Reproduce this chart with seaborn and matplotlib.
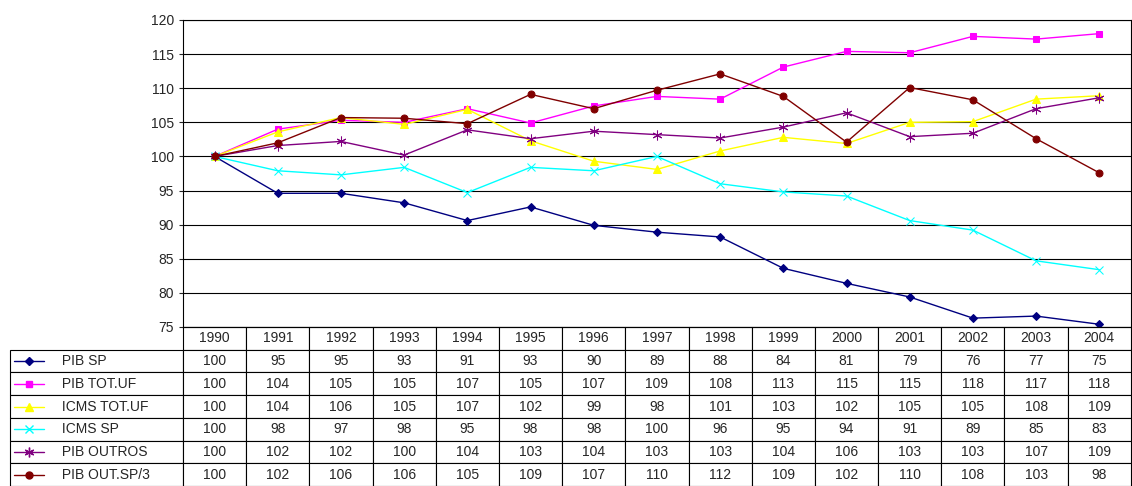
import matplotlib
matplotlib.use("Agg")
import matplotlib.pyplot as plt
import seaborn as sns
import pandas as pd

years = list(range(1990, 2005))
pib_sp = [100, 94.6, 94.6, 93.2, 90.6, 92.6, 89.9, 88.9, 88.2, 83.6, 81.4, 79.4, 76.3, 76.6, 75.4]
pib_tot = [100, 104.0, 105.3, 105.0, 107.0, 104.9, 107.4, 108.8, 108.4, 113.1, 115.4, 115.2, 117.6, 117.2, 118.0]
icms_tot = [100, 103.6, 105.7, 104.7, 106.9, 102.3, 99.3, 98.1, 100.8, 102.8, 101.9, 105.0, 105.1, 108.4, 108.9]
icms_sp = [100, 97.9, 97.3, 98.4, 94.7, 98.4, 97.9, 100, 96.0, 94.8, 94.2, 90.6, 89.2, 84.7, 83.4]
pib_out = [100, 101.6, 102.2, 100.2, 103.9, 102.6, 103.7, 103.2, 102.7, 104.3, 106.4, 102.9, 103.4, 107.0, 108.6]
pib_out3 = [100, 102.0, 105.7, 105.6, 104.8, 109.1, 107.0, 109.7, 112.1, 108.8, 102.1, 110.1, 108.3, 102.6, 97.6]

names = ["PIB SP", "PIB TOT.UF", "ICMS TOT.UF", "ICMS SP", "PIB OUTROS", "PIB OUT.SP/3"]
series = [pib_sp, pib_tot, icms_tot, icms_sp, pib_out, pib_out3]
colors = ["#000080", "#FF00FF", "#FFFF00", "#00FFFF", "#800080", "#800000"]
markers = ["D", "s", "^", "x", (6, 2, 0), "o"]
msizes = [4, 5, 6, 6, 7, 5]

sns.set_style("white")
plt.rcParams['font.family'] = ['Liberation Sans', 'DejaVu Sans']

fig = plt.figure(figsize=(11.32, 4.86), dpi=100)
ax = fig.add_axes([183/1132, 1-327/486, 1-183/1132-0.001, 307/486])

for n, s, c, m, ms in zip(names, series, colors, markers, msizes):
    df = pd.DataFrame({"x": range(len(years)), "y": s})
    sns.lineplot(data=df, x="x", y="y", ax=ax, color=c, marker=m, markersize=ms,
                 markeredgecolor=c, linewidth=1, legend=False)

ax.set_xlim(-0.5, 14.5)
ax.set_ylim(75, 120)
ax.set_yticks(range(75, 121, 5))
ax.tick_params(axis='y', labelsize=10, length=3, left=True)
ax.set_xticks([])
ax.set_xlabel("")
ax.set_ylabel("")
ax.grid(axis='y', color='black', linewidth=0.8)
for sp in ax.spines.values():
    sp.set_color('black')
    sp.set_linewidth(0.8)

# data table
def hround(v):
    return int(v + 0.5)

cell_text = [[""] + [str(y) for y in years]]
for n, s in zip(names, series):
    cell_text.append(["         " + n] + [str(hround(v)) for v in s])

w0 = 173
wc = 949 / 15
tot = w0 + 949
colw = [w0 / tot] + [wc / tot] * 15
left = -w0 / 949
tab = ax.table(cellText=cell_text, colWidths=colw, cellLoc='center',
               bbox=[left, -159/307, 1 - left, 159/307])
tab.auto_set_font_size(False)
tab.set_fontsize(10)
for (r, c), cell in tab.get_celld().items():
    cell.set_linewidth(0.8)
    if c == 0:
        cell.set_text_props(ha='left')
        cell._loc = 'left'
    if r == 0 and c == 0:
        cell.set_edgecolor('white')

# row label marker keys
rh = (159/307) / 7
for i, (c, m, ms) in enumerate(zip(colors, markers, msizes)):
    yk = -rh * (i + 1.5)
    x0 = left + 4/949
    x1 = left + 34/949
    ax.plot([x0, x1], [yk, yk], color=c, linewidth=1, transform=ax.transAxes, clip_on=False)
    ax.plot([(x0+x1)/2], [yk], color=c, marker=m, markersize=ms, markeredgecolor=c,
            transform=ax.transAxes, clip_on=False)

fig.savefig("out.png", dpi=100)
